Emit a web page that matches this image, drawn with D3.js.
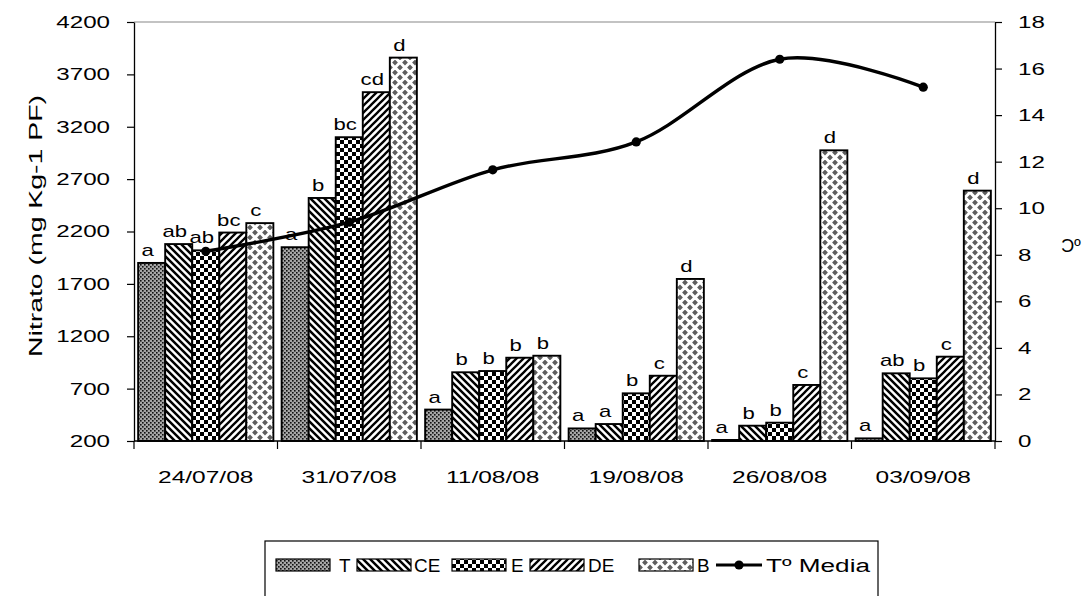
<!DOCTYPE html>
<html>
<head>
<meta charset="utf-8">
<script src="https://cdn.jsdelivr.net/npm/d3@7"></script>
<style>
  html, body { margin: 0; padding: 0; background: #fff; }
  svg { display: block; font-family: "Liberation Sans", Arial, sans-serif; }
</style>
</head>
<body>
<svg id="chart" width="1086" height="596"></svg>
<script>
// Sampling dates
const dates = ["24/07/08", "31/07/08", "11/08/08", "19/08/08", "26/08/08", "03/09/08"];
// Treatments
const treatments = ["T", "CE", "E", "DE", "B"];
// Nitrate content (mg Kg-1 PF) per treatment, one value per date
const nitrateT  = [1900, 2050, 500, 320, 210, 225];
const nitrateCE = [2080, 2520, 856, 362, 346, 846];
const nitrateE  = [2020, 3100, 868, 655, 375, 798];
const nitrateDE = [2190, 3530, 995, 823, 735, 1005];
const nitrateB  = [2280, 3860, 1014, 1747, 2975, 2590];
// Mean temperature (ºC) per date
const tempMedia = [8.15, 9.4, 11.65, 12.85, 16.4, 15.2];
// Significance letters per treatment, one per date
const lettersT  = ["a", "a", "a", "a", "a", "a"];
const lettersCE = ["ab", "b", "b", "a", "b", "ab"];
const lettersE  = ["ab", "bc", "b", "b", "b", "b"];
const lettersDE = ["bc", "cd", "b", "c", "c", "c"];
const lettersB  = ["c", "d", "b", "d", "d", "d"];
// Axis ticks
const leftTicks = [200, 700, 1200, 1700, 2200, 2700, 3200, 3700, 4200];
const rightTicks = [0, 2, 4, 6, 8, 10, 12, 14, 16, 18];

const series = [nitrateT, nitrateCE, nitrateE, nitrateDE, nitrateB];
const letters = [lettersT, lettersCE, lettersE, lettersDE, lettersB];

const svg = d3.select("#chart");
const plot = { left: 134, right: 995, top: 22, bottom: 441 };

// widen text glyphs horizontally by factor k
function widen(sel, k) {
  sel.each(function () {
    const w = this.getComputedTextLength();
    if (w > 0) {
      d3.select(this).attr("textLength", w * k).attr("lengthAdjust", "spacingAndGlyphs");
    }
  });
}

// ---- fill patterns ----
const defs = svg.append("defs");

// T: grey stipple
const pT = defs.append("pattern").attr("id", "pat-T").attr("patternUnits", "userSpaceOnUse")
  .attr("width", 4).attr("height", 4);
pT.append("rect").attr("width", 4).attr("height", 4).attr("fill", "#a6a6a6");
pT.append("rect").attr("x", 0).attr("y", 0).attr("width", 1.6).attr("height", 1.6).attr("fill", "#111");
pT.append("rect").attr("x", 2).attr("y", 2).attr("width", 1.6).attr("height", 1.6).attr("fill", "#111");

// CE: wide downward diagonal stripes
const pCE = defs.append("pattern").attr("id", "pat-CE").attr("patternUnits", "userSpaceOnUse")
  .attr("width", 7).attr("height", 7);
pCE.append("rect").attr("width", 7).attr("height", 7).attr("fill", "#fff");
pCE.append("path").attr("d", "M-1,-1 L8,8 M-8,-1 L1,8 M6,-1 L15,8")
  .attr("stroke", "#000").attr("stroke-width", 2.5);

// E: small checkerboard
const pE = defs.append("pattern").attr("id", "pat-E").attr("patternUnits", "userSpaceOnUse")
  .attr("width", 8).attr("height", 8);
pE.append("rect").attr("width", 8).attr("height", 8).attr("fill", "#fff");
pE.append("rect").attr("x", 0).attr("y", 0).attr("width", 4).attr("height", 4).attr("fill", "#000");
pE.append("rect").attr("x", 4).attr("y", 4).attr("width", 4).attr("height", 4).attr("fill", "#000");

// DE: wide upward diagonal stripes
const pDE = defs.append("pattern").attr("id", "pat-DE").attr("patternUnits", "userSpaceOnUse")
  .attr("width", 7).attr("height", 7);
pDE.append("rect").attr("width", 7).attr("height", 7).attr("fill", "#fff");
pDE.append("path").attr("d", "M-1,8 L8,-1 M-8,8 L1,-1 M6,8 L15,-1")
  .attr("stroke", "#000").attr("stroke-width", 2.3);

// B: grey diamonds on white
const pB = defs.append("pattern").attr("id", "pat-B").attr("patternUnits", "userSpaceOnUse")
  .attr("width", 10).attr("height", 10);
pB.append("rect").attr("width", 10).attr("height", 10).attr("fill", "#fff");
const dia = (cx, cy, r) => `M${cx},${cy - r} L${cx + r},${cy} L${cx},${cy + r} L${cx - r},${cy} Z`;
pB.append("path")
  .attr("d", dia(5, 2.5, 2.9) + dia(0, 7.5, 2.9) + dia(10, 7.5, 2.9))
  .attr("fill", "#5e5e5e");

const fills = treatments.map(t => `url(#pat-${t})`);

// ---- scales ----
const x0 = d3.scaleBand().domain(dates).range([plot.left, plot.right]).paddingInner(0).paddingOuter(0);
const x1 = d3.scaleBand().domain(treatments).range([0, x0.bandwidth()])
  .paddingInner(0).paddingOuter(0.153);
const yL = d3.scaleLinear().domain([200, 4200]).range([plot.bottom, plot.top]);
const yR = d3.scaleLinear().domain([0, 18]).range([plot.bottom, plot.top]);

// plot area top border
svg.append("line")
  .attr("x1", plot.left).attr("x2", plot.right)
  .attr("y1", plot.top).attr("y2", plot.top)
  .attr("stroke", "#888").attr("stroke-width", 1.2);

// ---- bars ----
const gBars = svg.append("g");
treatments.forEach((t, si) => {
  gBars.selectAll(null).data(series[si]).join("rect")
    .attr("x", (d, i) => x0(dates[i]) + x1(t))
    .attr("y", d => yL(d))
    .attr("width", x1.bandwidth())
    .attr("height", d => yL(200) - yL(d))
    .attr("fill", fills[si])
    .attr("stroke", "#000")
    .attr("stroke-width", 1.9);
});

// ---- significance letters ----
const gLetters = svg.append("g").attr("font-size", 17).attr("fill", "#000").attr("text-anchor", "middle");
treatments.forEach((t, si) => {
  gLetters.selectAll(null).data(series[si]).join("text")
    .attr("x", (d, i) => x0(dates[i]) + x1(t) + x1.bandwidth() / 2 - 4)
    .attr("y", d => yL(d) - 7)
    .text((d, i) => letters[si][i]);
});
widen(gLetters.selectAll("text"), 1.3);

// ---- axes ----
const axisStyle = g => {
  g.attr("font-family", null).attr("font-size", null);
  g.selectAll("path.domain").attr("stroke", "#000").attr("stroke-width", 1.3);
  g.selectAll(".tick line").attr("stroke", "#000").attr("stroke-width", 1.2);
  g.selectAll(".tick text").attr("font-size", 17).attr("fill", "#000");
  widen(g.selectAll(".tick text"), 1.42);
};

const gLeft = svg.append("g").attr("transform", `translate(${plot.left},0)`)
  .call(d3.axisLeft(yL).tickValues(leftTicks).tickSizeInner(7).tickSizeOuter(0).tickPadding(17)
    .tickFormat(d3.format("d")));
axisStyle(gLeft);

const gRight = svg.append("g").attr("transform", `translate(${plot.right},0)`)
  .call(d3.axisRight(yR).tickValues(rightTicks).tickSizeInner(7).tickSizeOuter(0).tickPadding(16)
    .tickFormat(d3.format("d")));
axisStyle(gRight);

// category axis with ticks between groups
const gBottom = svg.append("g").attr("transform", `translate(0,${plot.bottom})`);
gBottom.append("line").attr("x1", plot.left).attr("x2", plot.right)
  .attr("stroke", "#000").attr("stroke-width", 1.3);
const boundaries = dates.map(d => x0(d)).concat([x0(dates[dates.length - 1]) + x0.bandwidth()]);
gBottom.selectAll(null).data(boundaries).join("line")
  .attr("x1", d => d).attr("x2", d => d).attr("y1", 0).attr("y2", 8)
  .attr("stroke", "#000").attr("stroke-width", 1.2);
gBottom.selectAll(null).data(dates).join("text")
  .attr("class", "cat")
  .attr("x", d => x0(d) + x0.bandwidth() / 2)
  .attr("y", 42)
  .attr("text-anchor", "middle").attr("font-size", 17).attr("fill", "#000")
  .text(d => d);
widen(gBottom.selectAll("text.cat"), 1.44);

// ---- temperature line ----
const tempPts = tempMedia.map((v, i) => [x0(dates[i]) + x0.bandwidth() / 2, yR(v)]);
svg.append("path")
  .attr("d", d3.line().curve(d3.curveCatmullRom.alpha(0))(tempPts))
  .attr("fill", "none").attr("stroke", "#000").attr("stroke-width", 3.4);
svg.selectAll(null).data(tempPts).join("circle")
  .attr("cx", d => d[0]).attr("cy", d => d[1]).attr("r", 4.6).attr("fill", "#000");

// ---- axis titles ----
svg.append("text")
  .attr("transform", `translate(42,226) rotate(-90)`)
  .attr("text-anchor", "middle").attr("font-size", 18).attr("fill", "#000")
  .attr("textLength", 262).attr("lengthAdjust", "spacingAndGlyphs")
  .text("Nitrato (mg Kg-1 PF)");
svg.append("text")
  .attr("transform", `translate(1071,252) scale(-1,1)`)
  .attr("text-anchor", "middle").attr("font-size", 18).attr("fill", "#000")
  .text("ºC");

// ---- legend ----
const legend = svg.append("g");
legend.append("rect")
  .attr("x", 265).attr("y", 541).attr("width", 613).attr("height", 62)
  .attr("fill", "#fff").attr("stroke", "#000").attr("stroke-width", 1.2);
const legendItems = [
  { x: 276, tx: 339 }, { x: 357, tx: 414 }, { x: 452, tx: 511 },
  { x: 530, tx: 588 }, { x: 639, tx: 697 }
];
legendItems.forEach((it, i) => {
  legend.append("rect").attr("x", it.x).attr("y", 559).attr("width", 54).attr("height", 12)
    .attr("fill", fills[i]).attr("stroke", "#000").attr("stroke-width", 1.2);
  legend.append("text").attr("class", "leg").attr("x", it.tx).attr("y", 572)
    .attr("font-size", 18).attr("fill", "#000").text(treatments[i]);
});
legend.append("line").attr("x1", 716).attr("x2", 762).attr("y1", 565).attr("y2", 565)
  .attr("stroke", "#000").attr("stroke-width", 3);
legend.append("circle").attr("cx", 739).attr("cy", 565).attr("r", 4.6).attr("fill", "#000");
legend.append("text").attr("x", 766).attr("y", 572)
  .attr("font-size", 18).attr("fill", "#000")
  .attr("textLength", 104).attr("lengthAdjust", "spacingAndGlyphs")
  .text("Tº Media");
widen(legend.selectAll("text.leg"), 1.05);
</script>
</body>
</html>
